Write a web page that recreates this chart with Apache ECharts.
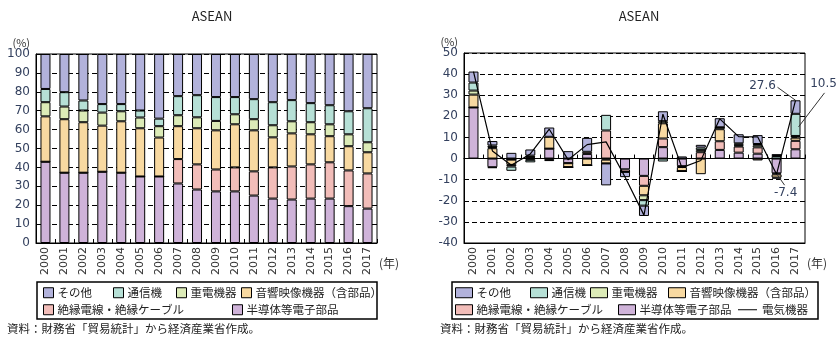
<!DOCTYPE html>
<html><head><meta charset="utf-8">
<script src="https://cdn.jsdelivr.net/npm/echarts@6/dist/echarts.min.js"></script>
<style>html,body{margin:0;padding:0;background:#fff}#c{width:838px;height:343px}</style>
</head><body><div id="c"></div>
<script>
// ---- data ----
const years = ['2000','2001','2002','2003','2004','2005','2006','2007','2008','2009','2010','2011','2012','2013','2014','2015','2016','2017'];
const seriesNames = ['半導体等電子部品','絶縁電線・絶縁ケーブル','音響映像機器（含部品）','重電機器','通信機','その他'];
const lineName = '電気機器';
// left: composition (%)
const shareSemi  = [43.0,37.2,37.2,37.7,37.2,35.2,35.2,31.5,28.3,27.3,27.3,25.1,23.5,23.0,23.5,23.5,19.5,18.2];
const shareCable = [0,0,0,0,0,0,0,12.9,13.3,11.6,12.7,12.8,16.5,17.5,18.1,19.2,18.9,18.6];
const shareAV    = [24.0,28.3,26.7,24.4,27.2,25.5,20.6,17.4,19.1,20.7,22.8,21.7,15.9,17.5,15.9,13.8,12.8,11.2];
const shareHeavy = [7.5,6.7,6.2,6.9,5.3,5.7,6.0,5.8,5.8,5.0,5.3,5.9,6.4,6.4,6.4,6.3,6.3,5.3];
const shareComm  = [7.0,7.6,5.3,4.5,3.8,3.7,4.0,10.1,11.7,12.6,9.1,10.6,12.2,11.2,10.1,10.1,12.2,18.0];
const shareOther = [18.5,20.2,24.6,26.5,26.5,29.9,34.2,22.3,21.8,22.8,22.8,23.9,25.5,24.4,26.0,27.1,30.3,28.7];
// right: contribution to growth (%)
const contribSemi  = [24.2,-4.1,-0.5,0.5,4.7,-2.2,2.2,-0.5,-5.1,-8.2,5.4,-3.6,0,4.1,2.8,2.3,-7.0,4.4];
const contribCable = [0,-0.4,0,0.3,0,0,1.0,13.3,-1.2,-4.7,4.1,-0.4,3.0,4.1,2.9,3.0,-0.5,4.0];
const contribAV    = [6.1,4.9,-2.5,0.6,5.6,-1.9,-3.2,-1.8,0,-4.5,7.2,-2.0,-7.4,5.7,0.5,-0.9,-1.5,1.5];
const contribHeavy = [1.9,0.5,-0.8,-0.6,-0.6,0,0,0,0,-2.3,1.0,0,1.0,0.9,0.4,1.0,-0.5,0.8];
const contribComm  = [3.8,0.8,-2.0,-1.2,-0.6,0,0,7.4,0,-2.6,-1.4,0,1.2,0,0.6,0.6,1.2,10.5];
const contribOther = [5.2,2.1,2.7,2.9,4.4,3.5,6.6,-10.4,-2.5,-4.9,4.7,1.0,1.3,4.3,4.3,4.2,0.9,6.4];
const elecTotal    = [41.2,3.6,-3.2,2.2,13.9,-0.6,6.6,7.9,-8.7,-26.8,21.0,-4.3,-0.9,18.8,10.4,10.3,-7.4,27.6];
const leftTicks = {min:0, max:100, interval:10};
const rightTicks = {min:-40, max:50, interval:10};

// ---- styles ----
const FONT = '"Noto Sans CJK JP","Noto Sans",sans-serif';
const colors = ['#cfb3d9','#f2bdb9','#f8d9a1','#dcebb7','#b6e0d6','#b2b2db'];
const labelColor = '#33405e';

const leftData = [shareSemi,shareCable,shareAV,shareHeavy,shareComm,shareOther];
const rightData = [contribSemi,contribCable,contribAV,contribHeavy,contribComm,contribOther];

const series = [];
seriesNames.forEach((n,i)=>{
  series.push({type:'bar',name:n,data:leftData[i],xAxisIndex:0,yAxisIndex:0,stack:'L',barWidth:10,
    itemStyle:{color:colors[i],borderColor:'#000',borderWidth:1},emphasis:{disabled:true}});
});
seriesNames.forEach((n,i)=>{
  series.push({type:'bar',name:n,data:rightData[i],xAxisIndex:1,yAxisIndex:1,stack:'R',barWidth:10,
    itemStyle:{color:colors[i],borderColor:'#000',borderWidth:1},emphasis:{disabled:true}});
});
series.push({type:'line',name:lineName,data:elecTotal,xAxisIndex:1,yAxisIndex:1,symbol:'none',
  lineStyle:{color:'#000',width:1.2},itemStyle:{color:'#000'},z:5,emphasis:{disabled:true}});

const LEGFS = 11.5;
function leg(name,left,top,w,h){
  return {data:[{name:name,icon:'rect'}],left:left,top:top,itemWidth:w,itemHeight:h,padding:0,itemGap:0,selectedMode:false,
    textStyle:{fontSize:LEGFS,color:'#222',fontFamily:FONT,padding:[0,0,0,-1]},itemStyle:{borderColor:'#000',borderWidth:1}};
}
const legends = [
  leg('その他',43,287,10,10), leg('通信機',113,287,10,10), leg('重電機器',176,287,10,10), leg('音響映像機器（含部品）',241,287,10,10),
  leg('絶縁電線・絶縁ケーブル',43,304,10,10), leg('半導体等電子部品',232,304,10,10),
  leg('その他',455,287,17,10), leg('通信機',530,287,17,10), leg('重電機器',590,287,17,10), leg('音響映像機器（含部品）',668,287,17,10),
  leg('絶縁電線・絶縁ケーブル',455,304,17,10), leg('半導体等電子部品',618,304,17,10),
  {data:[{name:lineName,icon:'rect'}],left:738,top:304,itemWidth:19,itemHeight:1,padding:0,selectedMode:false,
    textStyle:{fontSize:LEGFS,color:'#222',fontFamily:FONT},itemStyle:{color:'#000',borderWidth:0}}
];

function catAxis(grid,showLabel,extra){
  return Object.assign({type:'category',gridIndex:grid,data:years,
    axisLine:{onZero:false,lineStyle:{color:'#000',width:1}},
    axisTick:{show:false},
    axisLabel:{show:showLabel,rotate:90,fontSize:11,margin:4,color:'#333',fontFamily:'"DejaVu Sans",sans-serif'},
    splitLine:{show:false}},extra||{});
}
const yearName = {name:'(年)',nameLocation:'end',nameGap:2,
  nameTextStyle:{verticalAlign:'top',align:'left',padding:[14,0,0,0],fontSize:12,color:'#333',fontFamily:FONT}};

function valAxis(grid,t){
  return {type:'value',gridIndex:grid,min:t.min,max:t.max,interval:t.interval,
    axisLine:{show:true,lineStyle:{color:'#000'}},axisTick:{show:false},
    axisLabel:{fontSize:12,color:labelColor,margin:6,fontFamily:'"DejaVu Sans",sans-serif'},
    splitLine:{show:true,lineStyle:{color:'#000',type:[5,3],width:1}},
    name:'(%)',nameLocation:'end',nameGap:6,
    nameTextStyle:{align:'right',padding:[0,6,0,0],fontSize:11,color:'#333',fontFamily:FONT}};
}

const option = {
  animation:false,
  backgroundColor:'#fff',
  title:[
    {text:'ASEAN',left:207,top:5,textAlign:'center',textStyle:{fontSize:13,fontWeight:'normal',color:'#222',fontFamily:FONT}},
    {text:'ASEAN',left:634,top:5,textAlign:'center',textStyle:{fontSize:13,fontWeight:'normal',color:'#222',fontFamily:FONT}}
  ],
  grid:[
    {left:36,right:461,top:54,bottom:100,show:true,borderColor:'#000',borderWidth:1},
    {left:464,right:33,top:53,bottom:100,show:true,borderColor:'#000',borderWidth:1}
  ],
  legend:legends,
  xAxis:[
    Object.assign(catAxis(0,true,{axisTick:{show:true,inside:true,length:4,lineStyle:{color:'#000'}}}),yearName),
    Object.assign(catAxis(1,true),yearName),
    catAxis(1,false,{position:'bottom',axisLine:{onZero:true,onZeroAxisIndex:1,lineStyle:{color:'#000',width:1.2}},
      axisTick:{show:true,inside:true,length:4,lineStyle:{color:'#000'}}})
  ],
  yAxis:[valAxis(0,leftTicks),valAxis(1,rightTicks)],
  series:series
};
const chart = echarts.init(document.getElementById('c'));
chart.setOption(option);

// annotations positioned through the chart's own scales
const P = (x,y)=>chart.convertToPixel({xAxisIndex:1,yAxisIndex:1},[x,y]);
const a1 = P(years[17], elecTotal[17]);
const tealMid = contribSemi[17]+contribCable[17]+contribAV[17]+contribHeavy[17]+contribComm[17]/2;
const a2 = P(years[17], tealMid);
const a3 = P(years[16], elecTotal[16]);
const annStyle = {fontSize:12,fill:labelColor,fontFamily:'"DejaVu Sans",sans-serif',align:'center',verticalAlign:'middle'};
function seg(p,d1,d2){return {type:'line',shape:{x1:p[0]+d1[0],y1:p[1]+d1[1],x2:p[0]+d2[0],y2:p[1]+d2[1]},style:{stroke:'#333',lineWidth:1},z:20};}
function txt(p,d,s){return {type:'text',x:p[0]+d[0],y:p[1]+d[1],style:Object.assign({text:s},annStyle),z:20};}
chart.setOption({graphic:[
  txt(a1,[-33,-14],elecTotal[17].toFixed(1)), seg(a1,[-18,-13],[0,0]),
  txt(a2,[28,-41],contribComm[17].toFixed(1)), seg(a2,[29,-32],[3,2]),
  txt(a3,[9,19],elecTotal[16].toFixed(1)), seg(a3,[1,1],[8,11]),
  {type:'rect',shape:{x:37,y:282,width:340,height:37},style:{fill:'none',stroke:'#000',lineWidth:1.5},z:1},
  {type:'rect',shape:{x:452,y:282,width:366,height:37},style:{fill:'none',stroke:'#000',lineWidth:1.5},z:1},
  {type:'text',x:7,y:329,style:{text:'資料：財務省「貿易統計」から経済産業省作成。',fontSize:11.5,fill:'#222',fontFamily:FONT,verticalAlign:'middle'}},
  {type:'text',x:440,y:329,style:{text:'資料：財務省「貿易統計」から経済産業省作成。',fontSize:11.5,fill:'#222',fontFamily:FONT,verticalAlign:'middle'}}
]});
</script>
</body></html>
